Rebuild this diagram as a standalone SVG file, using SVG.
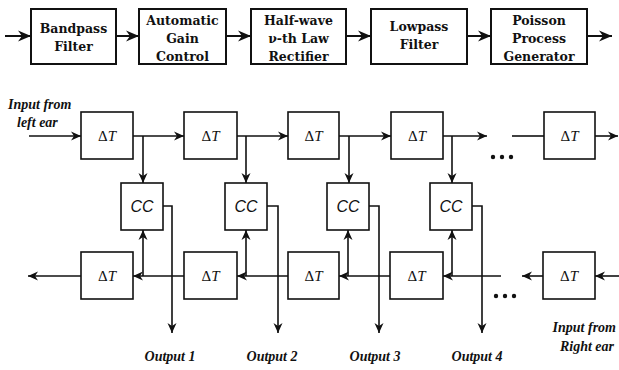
<svg xmlns="http://www.w3.org/2000/svg" width="619" height="370" viewBox="0 0 619 370">
<style>
.tb{fill:#fff;stroke:#111;stroke-width:2}
.b{fill:#fff;stroke:#111;stroke-width:1.6}
.tt{font-family:"DejaVu Serif",serif;font-weight:bold;font-size:12.5px;text-anchor:middle;fill:#111}
.dt{font-family:"Liberation Serif",serif;font-size:15px;text-anchor:middle;fill:#111}
.cc{font-family:"Liberation Sans",sans-serif;font-style:italic;font-size:16px;text-anchor:middle;fill:#111}
.lb{font-family:"Liberation Serif",serif;font-style:italic;font-weight:bold;font-size:14px;fill:#111}
.c{fill:none;stroke:#111;stroke-width:1.6}
.ct{fill:none;stroke:#111;stroke-width:2}
</style>
<defs>
<marker id="a" markerUnits="userSpaceOnUse" markerWidth="14" markerHeight="10" viewBox="-11 -5 12 10" refX="0" refY="0" orient="auto">
<path d="M0,0 L-10,-4.5 L-7,0 L-10,4.5 Z" fill="#111"/>
</marker>
<marker id="A" markerUnits="userSpaceOnUse" markerWidth="16" markerHeight="12" viewBox="-14 -6 15 12" refX="0" refY="0" orient="auto">
<path d="M0,0 L-13,-5.5 L-9,0 L-13,5.5 Z" fill="#111"/>
</marker>
</defs>

<g id="connectors">
<path class="ct" d="M5,36 H31" marker-end="url(#A)"/>
<path class="ct" d="M116,36 H139" marker-end="url(#A)"/>
<path class="ct" d="M226,36 H251" marker-end="url(#A)"/>
<path class="ct" d="M346,36 H371" marker-end="url(#A)"/>
<path class="ct" d="M467,36 H491" marker-end="url(#A)"/>
<path class="ct" d="M587,36 H612" marker-end="url(#A)"/>

<path class="c" d="M29,136 H81" marker-end="url(#a)"/>
<path class="c" d="M133,136 H184" marker-end="url(#a)"/>
<path class="c" d="M237,136 H288" marker-end="url(#a)"/>
<path class="c" d="M339,136 H391" marker-end="url(#a)"/>
<path class="c" d="M443,136 H487" marker-end="url(#a)"/>
<path class="c" d="M512,136 H544"/>
<path class="c" d="M595,136 H618" marker-end="url(#a)"/>

<path class="c" d="M143,136 V183" marker-end="url(#a)"/>
<path class="c" d="M246,136 V183" marker-end="url(#a)"/>
<path class="c" d="M349,136 V183" marker-end="url(#a)"/>
<path class="c" d="M452,136 V183" marker-end="url(#a)"/>

<path class="c" d="M163,206 H172 V333" marker-end="url(#a)"/>
<path class="c" d="M267,206 H278 V333" marker-end="url(#a)"/>
<path class="c" d="M369,206 H379 V333" marker-end="url(#a)"/>
<path class="c" d="M472,206 H482 V333" marker-end="url(#a)"/>

<path class="c" d="M619,276 H595" marker-end="url(#a)"/>
<path class="c" d="M543,276 H522" marker-end="url(#a)"/>
<path class="c" d="M501,276 H443" marker-end="url(#a)"/>
<path class="c" d="M390,276 H339" marker-end="url(#a)"/>
<path class="c" d="M288,276 H237" marker-end="url(#a)"/>
<path class="c" d="M184,276 H133" marker-end="url(#a)"/>
<path class="c" d="M81,276 H28" marker-end="url(#a)"/>

<path class="c" d="M143,276 V230" marker-end="url(#a)"/>
<path class="c" d="M246,276 V230" marker-end="url(#a)"/>
<path class="c" d="M348,276 V230" marker-end="url(#a)"/>
<path class="c" d="M452,276 V230" marker-end="url(#a)"/>

<circle cx="493" cy="157" r="2.2" fill="#111"/>
<circle cx="502" cy="157" r="2.2" fill="#111"/>
<circle cx="511" cy="157" r="2.2" fill="#111"/>
<circle cx="496" cy="296" r="2.2" fill="#111"/>
<circle cx="505" cy="296" r="2.2" fill="#111"/>
<circle cx="514" cy="296" r="2.2" fill="#111"/>
</g>

<g id="bandpass"><rect class="tb" x="31" y="9" width="85" height="55"/>
<text class="tt" x="73.5" y="33">Bandpass</text><text class="tt" x="73.5" y="51">Filter</text></g>
<g id="agc"><rect class="tb" x="139" y="9" width="87" height="55"/>
<text class="tt" x="182.5" y="24.5">Automatic</text><text class="tt" x="182.5" y="43">Gain</text><text class="tt" x="182.5" y="61">Control</text></g>
<g id="rectifier"><rect class="tb" x="251" y="9" width="95" height="55"/>
<text class="tt" x="298.5" y="24.5">Half-wave</text><text class="tt" x="298.5" y="43">ν-th Law</text><text class="tt" x="298.5" y="61">Rectifier</text></g>
<g id="lowpass"><rect class="tb" x="371" y="9" width="96" height="55"/>
<text class="tt" x="419" y="31">Lowpass</text><text class="tt" x="419" y="49">Filter</text></g>
<g id="poisson"><rect class="tb" x="491" y="9" width="96" height="55"/>
<text class="tt" x="539" y="24.5">Poisson</text><text class="tt" x="539" y="43">Process</text><text class="tt" x="539" y="61">Generator</text></g>

<g id="dtL1"><rect class="b" x="81" y="112" width="52" height="47"/><text class="dt" x="107" y="141">Δ<tspan font-style="italic">T</tspan></text></g>
<g id="dtL2"><rect class="b" x="184" y="112" width="53" height="47"/><text class="dt" x="210.5" y="141">Δ<tspan font-style="italic">T</tspan></text></g>
<g id="dtL3"><rect class="b" x="288" y="112" width="51" height="47"/><text class="dt" x="313.5" y="141">Δ<tspan font-style="italic">T</tspan></text></g>
<g id="dtL4"><rect class="b" x="391" y="112" width="52" height="47"/><text class="dt" x="417" y="141">Δ<tspan font-style="italic">T</tspan></text></g>
<g id="dtLn"><rect class="b" x="544" y="112" width="51" height="47"/><text class="dt" x="569.5" y="141">Δ<tspan font-style="italic">T</tspan></text></g>

<g id="cc1"><rect class="b" x="121" y="183" width="42" height="47"/><text class="cc" x="142" y="212">CC</text></g>
<g id="cc2"><rect class="b" x="225" y="183" width="42" height="47"/><text class="cc" x="246" y="212">CC</text></g>
<g id="cc3"><rect class="b" x="327" y="183" width="42" height="47"/><text class="cc" x="348" y="212">CC</text></g>
<g id="cc4"><rect class="b" x="430" y="183" width="42" height="47"/><text class="cc" x="451" y="212">CC</text></g>

<g id="dtR1"><rect class="b" x="81" y="252" width="52" height="47"/><text class="dt" x="107" y="281">Δ<tspan font-style="italic">T</tspan></text></g>
<g id="dtR2"><rect class="b" x="184" y="252" width="53" height="47"/><text class="dt" x="210.5" y="281">Δ<tspan font-style="italic">T</tspan></text></g>
<g id="dtR3"><rect class="b" x="288" y="252" width="51" height="47"/><text class="dt" x="313.5" y="281">Δ<tspan font-style="italic">T</tspan></text></g>
<g id="dtR4"><rect class="b" x="390" y="252" width="53" height="47"/><text class="dt" x="416.5" y="281">Δ<tspan font-style="italic">T</tspan></text></g>
<g id="dtRn"><rect class="b" x="543" y="252" width="52" height="47"/><text class="dt" x="569" y="281">Δ<tspan font-style="italic">T</tspan></text></g>

<g id="labels">
<text class="lb" x="8" y="109">Input from</text>
<text class="lb" x="17" y="127">left ear</text>
<text class="lb" x="616" y="332" text-anchor="end">Input from</text>
<text class="lb" x="614" y="351" text-anchor="end">Right ear</text>
<text class="lb" x="170" y="361" text-anchor="middle">Output 1</text>
<text class="lb" x="272" y="361" text-anchor="middle">Output 2</text>
<text class="lb" x="375" y="361" text-anchor="middle">Output 3</text>
<text class="lb" x="477" y="361" text-anchor="middle">Output 4</text>
</g>
</svg>
